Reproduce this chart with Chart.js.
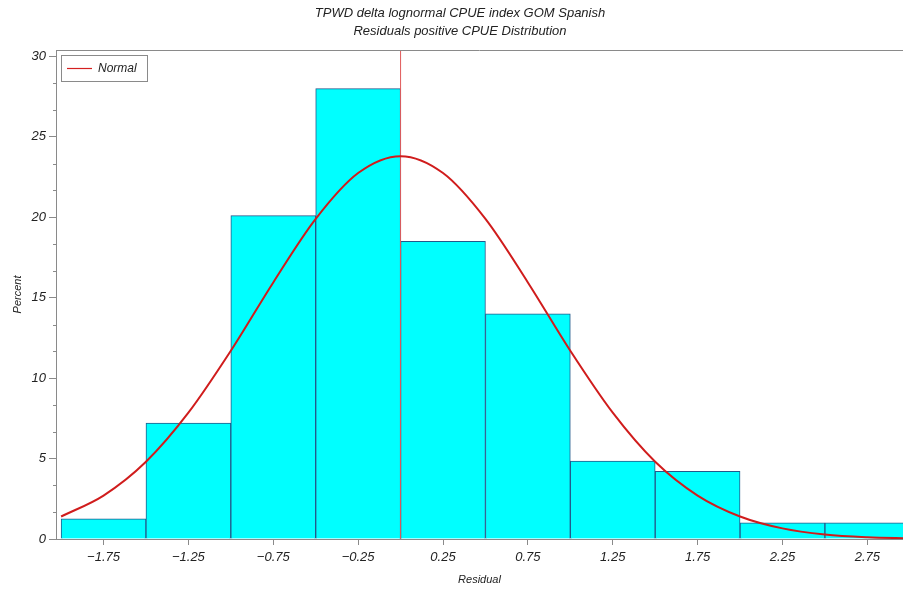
<!DOCTYPE html>
<html>
<head>
<meta charset="utf-8">
<script src="https://cdn.jsdelivr.net/npm/chart.js@4/dist/chart.umd.min.js"></script>
<style>
html,body{margin:0;padding:0;background:#fff;}
#wrap{width:903px;height:594px;position:relative;}
</style>
</head>
<body>
<div id="wrap"><canvas id="c" width="903" height="594"></canvas></div>
<script>
// ---- data ----
const binCenters = [-1.75, -1.25, -0.75, -0.25, 0.25, 0.75, 1.25, 1.75, 2.25, 2.75];
const percentValues = [1.26, 7.2, 20.1, 28.0, 18.5, 14.0, 4.85, 4.2, 1.0, 1.0];
const normalX = [-2.0, -1.75, -1.5, -1.25, -1.0, -0.75, -0.5, -0.25, 0.0, 0.25, 0.5, 0.75, 1.0, 1.25, 1.5, 1.75, 2.0, 2.25, 2.5, 2.75, 3.0];
const normalY = [1.4, 2.7, 4.8, 7.85, 11.7, 15.95, 19.9, 22.75, 23.8, 22.75, 19.9, 15.95, 11.7, 7.85, 4.8, 2.7, 1.4, 0.66, 0.28, 0.11, 0.04];
const refLineX = [0, 0];
const refLineY = [0, 30.4];
const xTickValues = [-1.75, -1.25, -0.75, -0.25, 0.25, 0.75, 1.25, 1.75, 2.25, 2.75];
const yTickValues = [0, 5, 10, 15, 20, 25, 30];
const yMinorStep = 5 / 3;
const titleLines = ['TPWD delta lognormal CPUE index GOM Spanish', 'Residuals positive CPUE Distribution'];
const legendLabel = 'Normal';

const FONT = "'Liberation Sans', Arial, sans-serif";
const TXT = '#222';
const AXIS = '#8a8a8a';

const fmt = v => {
  const s = Math.abs(v).toFixed(2);
  return (v < 0 ? '\u2212' : '') + s;
};

const framePlugin = {
  id: 'frame',
  afterDraw(chart) {
    const {ctx} = chart;
    ctx.save();
    ctx.fillStyle = TXT;
    ctx.font = "italic 13px " + FONT;
    ctx.textAlign = 'center';
    ctx.textBaseline = 'middle';
    ctx.fillText(titleLines[0], 460, 13);
    ctx.fillText(titleLines[1], 460, 31);
    ctx.restore();
  },
  afterDatasetsDraw(chart) {
    const {ctx, chartArea: a, scales} = chart;
    ctx.save();
    ctx.strokeStyle = AXIS;
    ctx.lineWidth = 1;
    ctx.beginPath();
    ctx.moveTo(a.left, Math.round(a.top) + 0.5);
    ctx.lineTo(a.right, Math.round(a.top) + 0.5);
    ctx.stroke();
    // minor y ticks
    const y = scales.y;
    for (let v = 0; v <= y.max + 1e-9; v += yMinorStep) {
      const r = Math.round(v / 5 * 1000) / 1000;
      if (Math.abs(r - Math.round(r)) < 1e-6) continue;
      const py = Math.round(y.getPixelForValue(v)) + 0.5;
      ctx.beginPath();
      ctx.moveTo(a.left - 3, py);
      ctx.lineTo(a.left, py);
      ctx.stroke();
    }
    // legend box
    const lx = a.left + 5, ly = a.top + 5;
    ctx.strokeStyle = AXIS;
    ctx.strokeRect(lx + 0.5, ly + 0.5, 86, 26);
    ctx.strokeStyle = '#d42020';
    ctx.lineWidth = 1.2;
    ctx.beginPath();
    ctx.moveTo(lx + 6, ly + 13.5);
    ctx.lineTo(lx + 31, ly + 13.5);
    ctx.stroke();
    ctx.fillStyle = TXT;
    ctx.font = "italic 12px " + FONT;
    ctx.textBaseline = 'middle';
    ctx.textAlign = 'left';
    ctx.fillText(legendLabel, lx + 37, ly + 14);
    ctx.restore();
  }
};

new Chart(document.getElementById('c'), {
  data: {
    datasets: [
      {
        type: 'line',
        label: 'ref',
        data: refLineX.map((x, i) => ({x, y: refLineY[i]})),
        borderColor: '#e05a5a',
        borderWidth: 1,
        pointRadius: 0,
        order: 1
      },
      {
        type: 'line',
        label: legendLabel,
        data: normalX.map((x, i) => ({x, y: normalY[i]})),
        borderColor: '#d01c1c',
        borderWidth: 2,
        pointRadius: 0,
        cubicInterpolationMode: 'monotone',
        order: 0
      },
      {
        type: 'bar',
        label: 'Percent',
        data: binCenters.map((x, i) => ({x, y: percentValues[i]})),
        backgroundColor: '#00FFFF',
        borderColor: '#24588a',
        borderWidth: 1,
        barPercentage: 1,
        categoryPercentage: 1,
        order: 2
      }
    ]
  },
  options: {
    responsive: false,
    animation: false,
    layout: {padding: {left: 0, right: 0, top: 50, bottom: 0}},
    plugins: {
      legend: {display: false},
      tooltip: {enabled: false},
      title: {display: false}
    },
    scales: {
      x: {
        type: 'linear',
        min: -2.03,
        max: 2.96,
        offset: false,
        afterBuildTicks: s => { s.ticks = xTickValues.map(v => ({value: v})); },
        afterFit: s => { s.height = 55; },
        ticks: {
          autoSkip: false,
          maxRotation: 0,
          color: TXT,
          padding: 5,
          font: {family: FONT, size: 13, style: 'italic'},
          callback: v => fmt(v)
        },
        grid: {display: true, offset: false, drawOnChartArea: false, tickLength: 6, color: AXIS},
        border: {color: AXIS},
        title: {
          display: true, text: 'Residual', color: TXT,
          font: {family: FONT, size: 11, style: 'italic'},
          padding: {top: 0, bottom: 7}
        }
      },
      y: {
        type: 'linear',
        min: 0,
        max: 30.4,
        afterBuildTicks: s => { s.ticks = yTickValues.map(v => ({value: v})); },
        afterFit: s => { s.width = 56; },
        ticks: {
          color: TXT,
          padding: 3,
          font: {family: FONT, size: 13, style: 'italic'}
        },
        grid: {display: true, drawOnChartArea: false, tickLength: 7, color: AXIS},
        border: {color: AXIS},
        title: {
          display: true, text: 'Percent', color: TXT,
          font: {family: FONT, size: 11, style: 'italic'},
          padding: {top: 11, bottom: 0}
        }
      }
    }
  },
  plugins: [framePlugin]
});
</script>
</body>
</html>
